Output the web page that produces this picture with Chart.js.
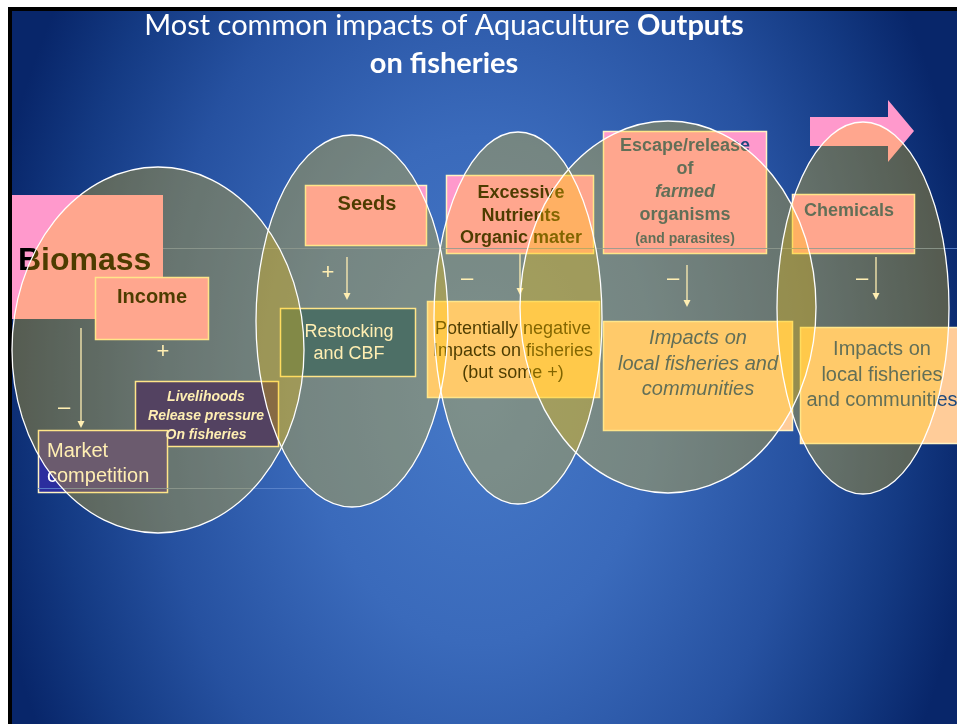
<!DOCTYPE html>
<html>
<head>
<meta charset="utf-8">
<script src="https://cdn.jsdelivr.net/npm/chart.js@4/dist/chart.umd.min.js"></script>
<style>
  html, body { margin: 0; padding: 0; background: #fff; overflow: hidden; }
  canvas { display: block; }
</style>
</head>
<body>
<canvas id="slide" width="957" height="724"></canvas>
<script>
// ── Data ──────────────────────────────────────────────
// the five output "stages" drawn as ellipses (centre + half axes, slide units)
const stageNames = ['Biomass', 'Seeds', 'Nutrients', 'Escapes', 'Chemicals']
const stageX  = [158, 352, 518, 668, 863]
const stageY  = [350, 321, 318, 307, 308]
const stageRx = [146,  96,  84, 148,  86]
const stageRy = [183, 186, 186, 186, 186]

const titleLine1 = ['Most common impacts of Aquaculture ', 'Outputs']
const titleLine2 = 'on fisheries'

const causeLabels = [
  ['Biomass'],
  ['Income'],
  ['Seeds'],
  ['Excessive', 'Nutrients', 'Organic mater'],
  ['Escape/release', 'of', 'farmed', 'organisms', '(and parasites)'],
  ['Chemicals']
]
const effectLabels = [
  ['Livelihoods', 'Release pressure', 'On fisheries'],
  ['Market', 'competition'],
  ['Restocking', 'and CBF'],
  ['Potentially negative', 'Impacts on fisheries', '(but some +)'],
  ['Impacts on', 'local fisheries and', 'communities'],
  ['Impacts on', 'local fisheries', 'and communities']
]
const linkSigns = ['+', '–', '+', '–', '–', '–']

// ── Styles ────────────────────────────────────────────
const PINK   = '#ff99cc'
const PEACH  = '#ffcc99'
const NAVY   = '#0a0a8c'
const INDIGO = '#2b2d9e'
const BLUE   = '#004a92'
const CREAM  = '#fff3c4'
const DKBLUE = '#1f497d'
const SANS   = '"Liberation Sans", Arial, sans-serif'
const TITLE_FONT = 'Lato, "Open Sans", sans-serif'

// ── Layout (slide units, same as pixels) ──────────────
const BOXES = [
  { x0: 12,  y0: 195, x1: 163, y1: 319, fill: PINK,   border: null  },
  { x0: 95,  y0: 277, x1: 209, y1: 340, fill: PINK,   border: CREAM },
  { x0: 135, y0: 381, x1: 279, y1: 447, fill: NAVY,   border: CREAM },
  { x0: 38,  y0: 430, x1: 168, y1: 493, fill: INDIGO, border: CREAM },
  { x0: 305, y0: 185, x1: 427, y1: 246, fill: PINK,   border: CREAM },
  { x0: 280, y0: 308, x1: 416, y1: 377, fill: BLUE,   border: CREAM },
  { x0: 446, y0: 175, x1: 594, y1: 254, fill: PINK,   border: CREAM },
  { x0: 427, y0: 301, x1: 600, y1: 398, fill: PEACH,  border: CREAM },
  { x0: 603, y0: 131, x1: 767, y1: 254, fill: PINK,   border: CREAM },
  { x0: 603, y0: 321, x1: 793, y1: 431, fill: PEACH,  border: CREAM },
  { x0: 792, y0: 194, x1: 915, y1: 254, fill: PINK,   border: CREAM },
  { x0: 800, y0: 327, x1: 962, y1: 444, fill: PEACH,  border: CREAM }
]

// text blocks: label lines, centre x (or left x), first baseline, line step
const TEXTS = [
  { lines: causeLabels[0], x: 18,  y: 270, step: 0,  font: 'bold 32px ' + SANS, color: '#000', align: 'left' },
  { lines: causeLabels[1], x: 152, y: 303, step: 0,  font: 'bold 20px ' + SANS, color: '#000' },
  { lines: causeLabels[2], x: 367, y: 210, step: 0,  font: 'bold 20px ' + SANS, color: '#000' },
  { lines: causeLabels[3], x: 521, y: 198, step: 22.5, font: 'bold 18px ' + SANS, color: '#000' },
  { lines: causeLabels[4], x: 685, y: 151, step: 23, font: 'bold 18px ' + SANS, color: DKBLUE,
    fonts: ['bold 18px ', 'bold 18px ', 'italic bold 18px ', 'bold 18px ', 'bold 14px '] },
  { lines: causeLabels[5], x: 849, y: 216, step: 0,  font: 'bold 18px ' + SANS, color: DKBLUE },
  { lines: effectLabels[0], x: 206, y: 401, step: 19, font: 'italic bold 14px ' + SANS, color: '#fff' },
  { lines: effectLabels[1], x: 47,  y: 457, step: 25, font: '20px ' + SANS, color: '#fff', align: 'left' },
  { lines: effectLabels[2], x: 349, y: 337, step: 22, font: '18px ' + SANS, color: '#fff' },
  { lines: effectLabels[3], x: 513, y: 334, step: 22, font: '18px ' + SANS, color: '#000' },
  { lines: effectLabels[4], x: 698, y: 344, step: 25.5, font: 'italic 20px ' + SANS, color: DKBLUE },
  { lines: effectLabels[5], x: 882, y: 355, step: 25.5, font: '20px ' + SANS, color: DKBLUE }
]

// arrows (x, from y, to y) and their sign positions
const ARROWS = [
  { x: 163, y0: 0,   y1: 0,   sx: 163, sy: 352 },
  { x: 81,  y0: 328, y1: 428, sx: 64,  sy: 408 },
  { x: 347, y0: 257, y1: 300, sx: 328, sy: 273 },
  { x: 520, y0: 254, y1: 295, sx: 467, sy: 279 },
  { x: 687, y0: 265, y1: 307, sx: 673, sy: 279 },
  { x: 876, y0: 257, y1: 300, sx: 862, sy: 279 }
]

// ── Drawing helpers ───────────────────────────────────
function px(chart, v) { return chart.scales.x.getPixelForValue(v) }
function py(chart, v) { return chart.scales.y.getPixelForValue(v) }

function drawBackground(chart) {
  const ctx = chart.ctx
  ctx.save()
  ctx.fillStyle = '#fff'
  ctx.fillRect(0, 0, chart.width, chart.height)
  ctx.fillStyle = '#000'
  ctx.fillRect(px(chart, 8), py(chart, 7), chart.width, chart.height)

  ctx.beginPath()
  ctx.rect(px(chart, 12), py(chart, 11), chart.width, chart.height)
  ctx.clip()
  ctx.translate(px(chart, 480), py(chart, 390))
  ctx.scale(1, 1.45)
  const g = ctx.createRadialGradient(0, 0, 0, 0, 0, 500)
  g.addColorStop(0,    '#4679c8')
  g.addColorStop(0.35, '#3a6abb')
  g.addColorStop(0.65, '#2651a0')
  g.addColorStop(0.85, '#143a83')
  g.addColorStop(1,    '#08266a')
  ctx.fillStyle = g
  ctx.fillRect(-520, -400, 1040, 800)
  ctx.restore()
}

function drawTitle(chart) {
  const ctx = chart.ctx
  ctx.save()
  ctx.fillStyle = '#fff'
  ctx.textBaseline = 'alphabetic'
  const reg = '29px ' + TITLE_FONT
  const bold = 'bold 29px ' + TITLE_FONT
  ctx.font = reg
  const w1 = ctx.measureText(titleLine1[0]).width
  ctx.font = bold
  const w2 = ctx.measureText(titleLine1[1]).width
  const cx = px(chart, 444)
  let x = cx - (w1 + w2) / 2
  ctx.textAlign = 'left'
  ctx.font = reg
  ctx.fillText(titleLine1[0], x, py(chart, 35))
  ctx.font = bold
  ctx.fillText(titleLine1[1], x + w1, py(chart, 35))
  ctx.textAlign = 'center'
  ctx.fillText(titleLine2, cx, py(chart, 73))
  ctx.restore()
}

function drawArrowTopRight(chart) {
  const ctx = chart.ctx
  ctx.save()
  ctx.fillStyle = PINK
  ctx.beginPath()
  ctx.moveTo(px(chart, 810), py(chart, 117))
  ctx.lineTo(px(chart, 888), py(chart, 117))
  ctx.lineTo(px(chart, 888), py(chart, 100))
  ctx.lineTo(px(chart, 914), py(chart, 131))
  ctx.lineTo(px(chart, 888), py(chart, 162))
  ctx.lineTo(px(chart, 888), py(chart, 146))
  ctx.lineTo(px(chart, 810), py(chart, 146))
  ctx.closePath()
  ctx.fill()
  ctx.restore()
}

function drawBoxes(chart) {
  const ctx = chart.ctx
  ctx.save()
  BOXES.forEach(b => {
    const x = px(chart, b.x0), y = py(chart, b.y0)
    const w = px(chart, b.x1) - x, h = py(chart, b.y1) - y
    ctx.fillStyle = b.fill
    ctx.fillRect(x, y, w, h)
    if (b.border) {
      ctx.strokeStyle = b.border
      ctx.lineWidth = 1.5
      ctx.strokeRect(x + 0.5, y + 0.5, w - 1, h - 1)
    }
  })
  ctx.restore()
}

function drawGuideLines(chart) {
  const ctx = chart.ctx
  ctx.save()
  ctx.strokeStyle = 'rgba(95,135,205,0.85)'
  ctx.lineWidth = 1
  ctx.beginPath()
  ctx.moveTo(px(chart, 163), py(chart, 248) + 0.5)
  ctx.lineTo(px(chart, 957), py(chart, 248) + 0.5)
  ctx.moveTo(px(chart, 38),  py(chart, 488) + 0.5)
  ctx.lineTo(px(chart, 306), py(chart, 488) + 0.5)
  ctx.stroke()
  ctx.restore()
}

function drawTexts(chart) {
  const ctx = chart.ctx
  ctx.save()
  ctx.textBaseline = 'alphabetic'
  TEXTS.forEach(t => {
    ctx.fillStyle = t.color
    ctx.textAlign = t.align || 'center'
    t.lines.forEach((line, i) => {
      ctx.font = t.fonts ? t.fonts[i] + SANS : t.font
      ctx.fillText(line, px(chart, t.x), py(chart, t.y + i * t.step))
    })
  })
  ctx.restore()
}

function drawLinks(chart) {
  const ctx = chart.ctx
  ctx.save()
  ctx.strokeStyle = '#fff'
  ctx.fillStyle = '#fff'
  ctx.lineWidth = 1.3
  ARROWS.forEach((a, i) => {
    if (a.y1 > a.y0) {
      const x = px(chart, a.x), y0 = py(chart, a.y0), y1 = py(chart, a.y1)
      ctx.beginPath()
      ctx.moveTo(x, y0)
      ctx.lineTo(x, y1 - 6)
      ctx.stroke()
      ctx.beginPath()
      ctx.moveTo(x - 3.5, y1 - 7)
      ctx.lineTo(x + 3.5, y1 - 7)
      ctx.lineTo(x, y1)
      ctx.closePath()
      ctx.fill()
    }
    ctx.font = '22px ' + SANS
    ctx.textAlign = 'center'
    ctx.textBaseline = 'middle'
    ctx.fillText(linkSigns[i], px(chart, a.sx), py(chart, a.sy))
  })
  ctx.restore()
}

function drawStages(chart) {
  const ctx = chart.ctx
  ctx.save()
  stageNames.forEach((name, i) => {
    const cx = px(chart, stageX[i]), cy = py(chart, stageY[i])
    const rx = px(chart, stageX[i] + stageRx[i]) - cx
    const ry = py(chart, stageY[i] + stageRy[i]) - cy
    ctx.beginPath()
    ctx.ellipse(cx, cy, rx, ry, 0, 0, Math.PI * 2)
    ctx.fillStyle = 'rgba(255,200,0,0.30)'
    ctx.fill()
  })
  ctx.strokeStyle = '#ffffff'
  ctx.lineWidth = 1.3
  stageNames.forEach((name, i) => {
    const cx = px(chart, stageX[i]), cy = py(chart, stageY[i])
    const rx = px(chart, stageX[i] + stageRx[i]) - cx
    const ry = py(chart, stageY[i] + stageRy[i]) - cy
    ctx.beginPath()
    ctx.ellipse(cx, cy, rx, ry, 0, 0, Math.PI * 2)
    ctx.stroke()
  })
  ctx.restore()
}

const slidePlugin = {
  id: 'slide',
  beforeDraw(chart) {
    drawBackground(chart)
    drawTitle(chart)
  },
  afterDatasetsDraw(chart) {
    drawArrowTopRight(chart)
    drawBoxes(chart)
    drawGuideLines(chart)
    drawTexts(chart)
    drawLinks(chart)
    drawStages(chart)
  }
}

// ── Chart ─────────────────────────────────────────────
new Chart(document.getElementById('slide'), {
  type: 'scatter',
  data: {
    datasets: [{
      label: 'stages',
      data: stageX.map((x, i) => ({ x, y: stageY[i] })),
      pointRadius: 0
    }]
  },
  options: {
    responsive: false,
    animation: false,
    events: [],
    layout: { padding: 0 },
    plugins: { legend: { display: false }, tooltip: { enabled: false } },
    scales: {
      x: { type: 'linear', min: 0, max: 957, display: false },
      y: { type: 'linear', min: 0, max: 724, reverse: true, display: false }
    }
  },
  plugins: [slidePlugin]
})
</script>
</body>
</html>
